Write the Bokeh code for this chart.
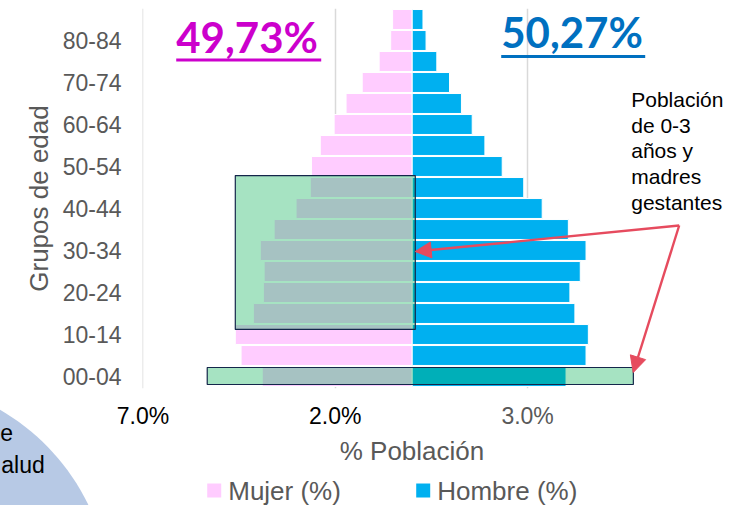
import numpy as np
from bokeh.plotting import figure
from bokeh.core.properties import value
from bokeh.models import (ColumnDataSource, FixedTicker, Label,
                          BoxAnnotation, Arrow, NormalHead)
from bokeh.embed import file_html
from bokeh.resources import INLINE

# ---------------- data ----------------
categories = ["00-04", "05-09", "10-14", "15-19", "20-24", "25-29", "30-34", "35-39",
              "40-44", "45-49", "50-54", "55-59", "60-64", "65-69", "70-74", "75-79",
              "80-84", "85+"]
mujer = [3.90, 4.45, 4.60, 4.13, 3.87, 3.85, 3.95, 3.59, 3.02, 2.65, 2.62, 2.39,
         2.03, 1.72, 1.30, 0.86, 0.56, 0.51]
hombre = [4.00, 4.52, 4.58, 4.23, 4.10, 4.37, 4.52, 4.06, 3.38, 2.90, 2.34, 1.89,
          1.56, 1.28, 0.97, 0.64, 0.36, 0.28]
series_names = ["Mujer (%)", "Hombre (%)"]
x_ticks = [-7, -2, 3]
x_tick_labels = ["7.0%", "2.0%", "3.0%"]
total_mujer = "49,73%"
total_hombre = "50,27%"
note_lines = ["Población", "de 0-3", "años y", "madres", "gestantes"]

GRAY = "#595959"
PINK = "#FFCCFF"
BLUE = "#00B0F0"
RED = "#E64B5E"
NAVY = "#14264A"
FONT = "Liberation Sans"

# page-pixel helpers for decorative placement (x: 38.46 px per %, zero at 412; y: 21 px per group)
def dx(px):
    return (px - 412) / 38.46

def dy(py):
    return (376 - py) / 21

n = len(categories)
src = ColumnDataSource(dict(y=list(range(n)),
                            left_m=[-v for v in mujer],
                            right_h=hombre))

p = figure(width=751, height=505, x_range=(-7.013, 7.002), y_range=(-0.571, 17.524),
           output_backend="svg", toolbar_location=None,
           min_border_left=142, min_border_right=70, min_border_top=8, min_border_bottom=117)
p.outline_line_color = None
p.background_fill_color = "white"
p.border_fill_color = "white"

r_m = p.hbar(y="y", left="left_m", right=0, height=0.95, fill_color=PINK,
             line_color="white", line_width=1, source=src)
r_h = p.hbar(y="y", left=0, right="right_h", height=0.95, fill_color=BLUE,
             line_color="white", line_width=1, source=src)

# axes
p.xaxis.ticker = FixedTicker(ticks=x_ticks)
p.xaxis.major_label_overrides = {-7: " ", -2: " ", 3: x_tick_labels[2]}
p.xaxis.axis_line_color = None
p.xaxis.major_tick_line_color = None
p.xaxis.minor_tick_line_color = None
p.xaxis.major_label_text_font = FONT
p.xaxis.major_label_text_font_size = "23px"
p.xaxis.major_label_text_color = GRAY
p.xaxis.major_label_standoff = 8
p.xaxis.axis_label = "% Población"
p.xaxis.axis_label_text_font = FONT
p.xaxis.axis_label_text_font_size = "26px"
p.xaxis.axis_label_text_font_style = "normal"
p.xaxis.axis_label_text_color = GRAY
p.xaxis.axis_label_standoff = 4

p.yaxis.ticker = FixedTicker(ticks=list(range(0, n - 1, 2)))
p.yaxis.major_label_overrides = {i: categories[i] for i in range(0, n - 1, 2)}
p.yaxis.axis_line_color = None
p.yaxis.major_tick_line_color = None
p.yaxis.minor_tick_line_color = None
p.yaxis.major_label_text_font = FONT
p.yaxis.major_label_text_font_size = "23px"
p.yaxis.major_label_text_color = GRAY
p.yaxis.major_label_standoff = 15
p.yaxis.axis_label = "Grupos de edad"
p.yaxis.axis_label_text_font = FONT
p.yaxis.axis_label_text_font_size = "26px"
p.yaxis.axis_label_text_font_style = "normal"
p.yaxis.axis_label_text_color = GRAY
p.yaxis.axis_label_standoff = 6

p.xgrid.grid_line_color = "#D9D9D9"
p.xgrid.grid_line_width = 1.5
p.ygrid.grid_line_color = None

# black tick labels for the two left ticks (overlay level so they are drawn outside the frame)
p.text(x=x_ticks[:2], y=[dy(415)] * 2, text=x_tick_labels[:2], text_align="center",
       text_baseline="middle", text_font=value(FONT), text_font_size="23px",
       text_color="black", level="overlay")

# highlight boxes
p.add_layout(BoxAnnotation(left=-4.60, right=0.08, bottom=2.24, top=9.57,
                           fill_color="#00B050", fill_alpha=0.35,
                           line_color=NAVY, line_alpha=1, line_width=1.2))
p.add_layout(BoxAnnotation(left=-5.33, right=5.75, bottom=-0.38, top=0.43,
                           fill_color="#00B050", fill_alpha=0.35,
                           line_color=NAVY, line_alpha=1, line_width=1.2))

# arrows
for xe, ye in [(dx(415), dy(251)), (dx(633), dy(372))]:
    p.add_layout(Arrow(end=NormalHead(size=16, fill_color=RED, line_color=RED),
                       x_start=dx(679), y_start=dy(225), x_end=xe, y_end=ye,
                       line_color=RED, line_width=2.4))

# annotation text (right)
p.text(x=[dx(631)] * len(note_lines), y=[dy(b) for b in [98.5, 124.5, 150, 175.5, 201.5]],
       text=note_lines, text_align="left", text_baseline="middle",
       text_font=value(FONT), text_font_size="21px", text_color="black", level="overlay")

# totals
p.add_layout(Label(x=dx(176), y=dy(36), text=total_mujer, text_font="Lato",
                   text_font_style="bold", text_font_size="42px", text_color="#CC00CC",
                   text_baseline="alphabetic"))
p.add_layout(BoxAnnotation(left=dx(176), right=dx(321), bottom=dy(61), top=dy(58),
                           fill_color="#CC00CC", fill_alpha=1, line_color=None))
p.add_layout(Label(x=dx(501), y=dy(31), text=total_hombre, text_font="Lato",
                   text_font_style="bold", text_font_size="42px", text_color="#0070C0",
                   text_baseline="alphabetic"))
p.add_layout(BoxAnnotation(left=dx(501), right=dx(645), bottom=dy(57.5), top=dy(54.5),
                           fill_color="#0070C0", fill_alpha=1, line_color=None))

# decorative circle at lower left
ang = np.linspace(0, 2 * np.pi, 180)
cx, cy, rr = -110, 600, 220
p.patch(x=dx(cx + rr * np.cos(ang)), y=dy(cy + rr * np.sin(ang)),
        fill_color="#B7C9E5", line_color=None, level="overlay")
p.text(x=[dx(0), dx(1)], y=[dy(432), dy(464)], text=["e", "alud"], text_align="left",
       text_baseline="middle", text_font=value(FONT), text_font_size="23px",
       text_color="black", level="overlay")

# legend (drawn below the plot area)
p.quad(left=[dx(207), dx(416)], right=[dx(221), dx(430)], bottom=[dy(497)] * 2,
       top=[dy(483)] * 2, fill_color=[PINK, BLUE], line_color=None, level="overlay")
p.text(x=[dx(228), dx(437)], y=[dy(490)] * 2, text=series_names, text_align="left",
       text_baseline="middle", text_font=value(FONT), text_font_size="26px",
       text_color=GRAY, level="overlay")

open("out.html", "w").write(file_html(p, INLINE))
